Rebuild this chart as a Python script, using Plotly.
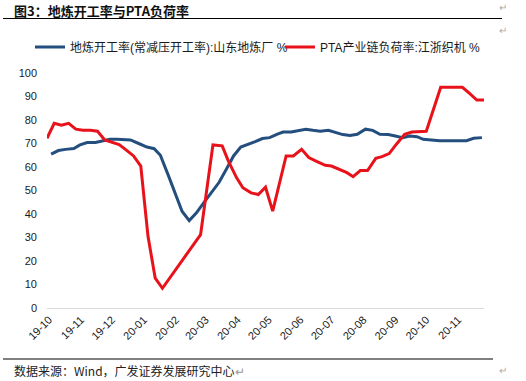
import plotly.graph_objects as go

# ---------------- data ----------------
blue_name = "地炼开工率(常减压开工率):山东地炼厂 %"
red_name = "PTA产业链负荷率:江浙织机 %"

blue_dates = [
    "2019-10-03", "2019-10-10", "2019-10-17", "2019-10-25", "2019-10-31", "2019-11-07",
    "2019-11-15", "2019-11-22", "2019-11-29", "2019-12-06", "2019-12-13", "2019-12-19",
    "2019-12-27", "2020-01-04", "2020-01-11", "2020-01-17", "2020-01-25", "2020-02-01",
    "2020-02-07", "2020-02-14", "2020-02-21", "2020-02-28", "2020-03-07", "2020-03-14",
    "2020-03-21", "2020-03-28", "2020-04-04", "2020-04-11", "2020-04-18", "2020-04-25",
    "2020-05-02", "2020-05-09", "2020-05-15", "2020-05-23", "2020-05-30", "2020-06-06",
    "2020-06-13", "2020-06-20", "2020-06-28", "2020-07-05", "2020-07-12", "2020-07-19",
    "2020-07-26", "2020-08-03", "2020-08-10", "2020-08-17", "2020-08-25", "2020-09-01",
    "2020-09-08", "2020-09-15", "2020-09-22", "2020-09-28", "2020-10-06", "2020-10-14",
    "2020-10-24", "2020-11-01", "2020-11-09", "2020-11-16", "2020-11-24",
]
blue_values = [
    65.5, 67.0, 67.5, 67.9, 69.4, 70.4,
    70.4, 71.1, 71.8, 71.8, 71.8, 71.5,
    70.0, 68.5, 67.8, 65.0, 56.1, 47.6,
    41.2, 37.2, 40.5, 44.7, 49.3, 53.5,
    59.0, 64.7, 68.5, 69.5, 70.8, 72.1,
    72.5, 73.9, 74.9, 74.9, 75.6, 76.1,
    75.6, 75.2, 75.6, 74.6, 73.8, 73.4,
    73.9, 76.1, 75.6, 73.9, 73.8, 73.2,
    72.5, 73.2, 72.9, 71.8, 71.5, 71.2,
    71.2, 71.2, 71.2, 72.2, 72.5,
]

red_dates = [
    "2019-09-29", "2019-10-06", "2019-10-13", "2019-10-20", "2019-10-27", "2019-11-03",
    "2019-11-10", "2019-11-17", "2019-11-24", "2019-12-01", "2019-12-08", "2019-12-15",
    "2019-12-22", "2019-12-29", "2020-01-05", "2020-01-12", "2020-01-19",
    "2020-02-25", "2020-03-08", "2020-03-17", "2020-03-23", "2020-03-31", "2020-04-06",
    "2020-04-14", "2020-04-21", "2020-04-28", "2020-05-05", "2020-05-18", "2020-05-25",
    "2020-06-02", "2020-06-09", "2020-06-16", "2020-06-25", "2020-07-01", "2020-07-09",
    "2020-07-16", "2020-07-22", "2020-07-29", "2020-08-05", "2020-08-13", "2020-08-19",
    "2020-08-26", "2020-09-02", "2020-09-10", "2020-09-17", "2020-09-24", "2020-10-01",
    "2020-10-15", "2020-10-22", "2020-10-30", "2020-11-05", "2020-11-12", "2020-11-19",
    "2020-11-26",
]
red_values = [
    72.2, 78.6, 77.8, 78.6, 76.1, 75.6,
    75.6, 75.2, 71.5, 70.6, 69.5, 67.2,
    64.7, 60.4, 30.5, 12.7, 8.4,
    31.2, 69.4, 69.0, 62.5, 55.4, 51.2,
    49.0, 48.3, 51.4, 41.2, 64.7, 64.7,
    67.5, 64.0, 62.5, 60.7, 60.4, 59.0,
    57.6, 55.9, 58.5, 58.5, 63.7, 64.4,
    65.7, 69.7, 73.9, 74.9, 75.2, 75.2,
    93.9, 93.9, 93.9, 93.9, 91.3, 88.5,
    88.5,
]

title_text = "图3：地炼开工率与PTA负荷率"
source_text = "数据来源：Wind，广发证券发展研究中心"

# ---------------- layout geometry ----------------
W, H = 526, 381
L, R, T, B = 47, 42, 73, 73
PH = H - T - B
PW = W - L - R


def py(y_px):  # pixel from top -> paper y
    return (H - B - y_px) / PH


def px(x_px):  # pixel from left -> paper x
    return (x_px - L) / PW


FONT = "Liberation Sans, Arial, Noto Sans CJK SC, sans-serif"
CJK = "Noto Sans CJK SC, sans-serif"

fig = go.Figure()
fig.add_trace(go.Scatter(
    x=blue_dates, y=blue_values, mode="lines", name=blue_name,
    line=dict(color="#234E7E", width=3), legend="legend",
))
fig.add_trace(go.Scatter(
    x=red_dates, y=red_values, mode="lines", name=red_name,
    line=dict(color="#E8121B", width=3), legend="legend2",
))

legend_common = dict(
    orientation="h", yanchor="middle", xanchor="left",
    font=dict(family=FONT, size=12, color="#1a1a1a"),
    bgcolor="rgba(0,0,0,0)", itemwidth=30, borderwidth=0,
)

fig.update_layout(
    width=W, height=H,
    margin=dict(l=L, r=R, t=T, b=B, pad=0, autoexpand=False),
    paper_bgcolor="white", plot_bgcolor="white",
    font=dict(family=FONT, size=11, color="#1a1a1a"),
    showlegend=True,
    legend=dict(x=px(30), y=py(47), **legend_common),
    legend2=dict(x=px(280), y=py(47), **legend_common),
    xaxis=dict(
        type="date", range=["2019-09-29", "2020-11-26"],
        tick0="2019-10-01", dtick="M1", tickformat="%y-%m",
        tickangle=-45, showgrid=False, zeroline=False,
        showline=True, linecolor="#D9D9D9", linewidth=1,
        ticks="", tickfont=dict(size=11, family=FONT, color="#1a1a1a"),
    ),
    yaxis=dict(
        range=[0, 100], dtick=10, showgrid=False, zeroline=False,
        showline=False, ticks="", ticklen=0, ticklabelstandoff=9,
        tickfont=dict(size=11, family=FONT, color="#1a1a1a"),
    ),
)

annotations = [
    dict(text="<b>" + title_text + "</b>", x=px(13), y=py(0), xref="paper", yref="paper",
         xanchor="left", yanchor="top", showarrow=False, borderpad=0,
         font=dict(family=CJK, size=13, color="#111111")),
    dict(text="↵", x=px(497), y=py(8), xref="paper", yref="paper",
         xanchor="left", yanchor="middle", showarrow=False,
         font=dict(family=FONT, size=10, color="#AAAAAA")),
    dict(text="↵", x=px(497), y=py(30), xref="paper", yref="paper",
         xanchor="left", yanchor="middle", showarrow=False,
         font=dict(family=FONT, size=10, color="#AAAAAA")),
    dict(text=source_text + "<span style='color:#999999'>↵</span>", x=px(12), y=py(370),
         xref="paper", yref="paper",
         xanchor="left", yanchor="middle", showarrow=False,
         font=dict(family=CJK, size=12, color="#222222")),
    dict(text="↵", x=px(497), y=py(370), xref="paper", yref="paper",
         xanchor="left", yanchor="middle", showarrow=False,
         font=dict(family=FONT, size=10, color="#AAAAAA")),
]
fig.update_layout(annotations=annotations)

fig.add_shape(type="line", xref="paper", yref="paper",
              x0=px(3), x1=px(502), y0=py(18.5), y1=py(18.5),
              line=dict(color="black", width=1))
fig.add_shape(type="line", xref="paper", yref="paper",
              x0=px(3), x1=px(493), y0=py(359), y1=py(359),
              line=dict(color="black", width=1))

fig.write_html(
    "out.html",
    config={"displayModeBar": False},
    post_script="document.body.style.margin='0';document.body.style.overflow='hidden';",
)
